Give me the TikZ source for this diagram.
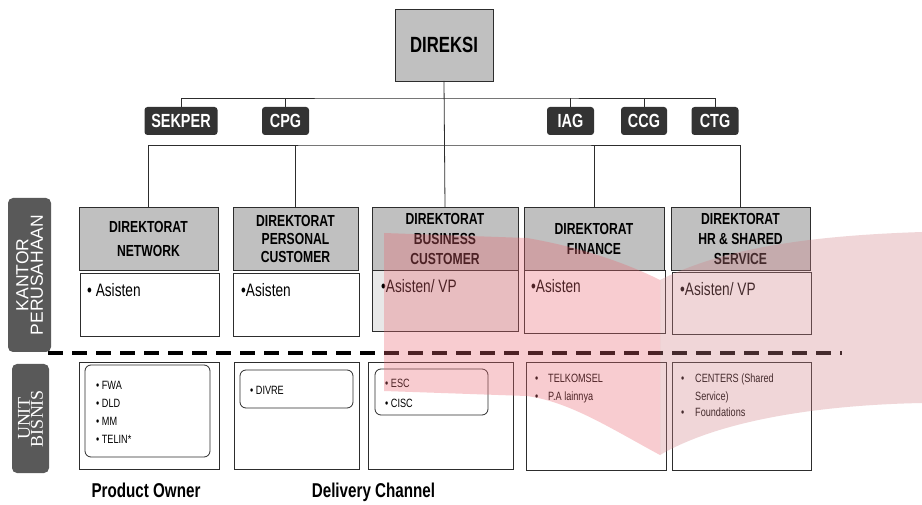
\documentclass[tikz,border=0pt]{standalone}
\usepackage{fontspec}
\setmainfont{Liberation Sans}
\newfontfamily\nfont[FakeStretch=0.76]{Liberation Sans}
\newfontfamily\rfont{Liberation Sans}
\newfontfamily\sfont{Liberation Serif}
\definecolor{hdrgray}{RGB}{192,192,192}
\definecolor{tagc}{RGB}{51,51,51}
\definecolor{sidec}{RGB}{89,89,89}
\definecolor{linec}{RGB}{45,45,45}
\definecolor{lightbox}{RGB}{232,232,232}
\definecolor{wmleft}{RGB}{234,103,113}
\definecolor{wmright}{RGB}{210,131,137}
\begin{document}
\begin{tikzpicture}[x=1pt,y=-1pt,
  box/.style={draw=linec, line width=0.8pt, inner sep=0pt, outer sep=0pt},
  hdr/.style={box, fill=hdrgray, align=center, font=\nfont\bfseries\fontsize{16}{19}\selectfont, minimum height=63pt},
  lowbox/.style={box, fill=white},
  inbox/.style={box, rounded corners=6pt},
  tagbox/.style={fill=tagc, rounded corners=3pt, text=white, inner sep=0pt, outer sep=0pt, minimum height=28pt, font=\nfont\bfseries\fontsize{19}{20}\selectfont},
  sidebox/.style={fill=sidec, rounded corners=5pt, inner sep=0pt, text=white},
  conn/.style={draw=linec, line width=0.8pt},
  item/.style={anchor=base west, inner sep=0pt, font=\nfont\fontsize{12}{14}\selectfont},
  asis/.style={anchor=base west, inner sep=0pt, font=\nfont\fontsize{18}{20}\selectfont},
  lbl/.style={anchor=base, inner sep=0pt, font=\nfont\bfseries\fontsize{20}{22}\selectfont},
  sep/.style={line width=3.6pt, dash pattern=on 15pt off 9pt, draw=black}
]
\useasboundingbox (0,0) rectangle (922,505);
\fill[white] (0,0) rectangle (922,505);

% top
\node[box, fill=hdrgray, minimum width=98pt, minimum height=72pt,
      font=\nfont\bfseries\fontsize{22}{24}\selectfont] (direksi) at (444,45) {DIREKSI};

\node[tagbox, minimum width=73pt] (sekper) at (181,121) {SEKPER};
\node[tagbox, minimum width=47pt] (cpg) at (285.5,121) {CPG};
\node[tagbox, minimum width=47pt] (iag) at (570.5,121) {IAG};
\node[tagbox, minimum width=46pt] (ccg) at (644,121) {CCG};
\node[tagbox, minimum width=47pt] (ctg) at (715,121) {CTG};

% direktorat headers
\node[hdr, minimum width=139pt, font=\nfont\bfseries\fontsize{16}{24}\selectfont] (hnet) at (148.5,238.5) {DIREKTORAT\\NETWORK};
\node[hdr, minimum width=125pt, font=\nfont\bfseries\fontsize{16}{18}\selectfont] (hper) at (295.5,238.5) {DIREKTORAT\\PERSONAL\\CUSTOMER};
\node[hdr, minimum width=146pt, font=\nfont\bfseries\fontsize{16}{20}\selectfont] (hbus) at (445,238.5) {DIREKTORAT\\BUSINESS\\CUSTOMER};
\node[hdr, minimum width=140pt, font=\nfont\bfseries\fontsize{16}{20}\selectfont] (hfin) at (594,238.5) {DIREKTORAT\\FINANCE};
\node[hdr, minimum width=139pt, font=\nfont\bfseries\fontsize{16}{20}\selectfont] (hhr) at (740.5,239) {DIREKTORAT\\HR \& SHARED\\SERVICE};

% connectors
\coordinate (bar1) at (445,98);
\coordinate (bar2) at (445,145);
\draw[conn] (sekper.north) |- (bar1) -| (ctg.north);
\draw[conn] (cpg.north) -- (cpg.north |- bar1);
\draw[conn] (iag.north) -- (iag.north |- bar1);
\draw[conn] (ccg.north) -- (ccg.north |- bar1);
\draw[conn] (direksi.south) -- (hbus.north);
\draw[conn] (hnet.north) |- (bar2) -| (hhr.north);
\draw[conn] (hper.north) -- (hper.north |- bar2);
\draw[conn] (hfin.north) -- (hfin.north |- bar2);

% asisten boxes
\node[lowbox, minimum width=139pt, minimum height=63pt] (anet) at (149.5,304.5) {};
\node[lowbox, minimum width=126pt, minimum height=63pt] (aper) at (296,304.5) {};
\node[lowbox, fill=lightbox, minimum width=146pt, minimum height=61pt] (abus) at (445,300.5) {};
\node[lowbox, minimum width=141pt, minimum height=63pt] (afin) at (594.5,301.5) {};
\node[lowbox, minimum width=139pt, minimum height=62pt] (ahr) at (741.5,303) {};

\node[asis] (tnet) at (87,297) {• Asisten};
\node[asis] (tper) at (241,297) {•Asisten};
\node[asis] (tbus) at (381,293) {•Asisten/ VP};
\node[asis] (tfin) at (531,293) {•Asisten};
\node[asis] (thr) at (680,296) {•Asisten/ VP};

% side labels
\node[sidebox, minimum width=43pt, minimum height=154pt] (kantor) at (29.5,275) {};
\node[rotate=90, align=center, text=white, inner sep=0pt,
      font=\rfont\fontsize{17.5}{14.5}\selectfont] (kantortxt) at (kantor.center) {KANTOR\\PERUSAHAAN};
\node[sidebox, minimum width=37pt, minimum height=109pt] (unit) at (30.5,418.5) {};
\node[rotate=90, align=center, text=white, inner sep=0pt,
      font=\sfont\fontsize{18}{13}\selectfont] (unittxt) at (unit.center) {UNIT\\BISNIS};

% separator
\coordinate (dl) at (48,353);
\coordinate (dr) at (842,353);
\draw[sep] (dl) -- (dr);

% unit bisnis boxes
\node[lowbox, minimum width=140pt, minimum height=107pt] (unet) at (149,415.5) {};
\node[inbox, minimum width=125pt, minimum height=92pt] (inet) at (147.5,411) {};
\node[lowbox, minimum width=125pt, minimum height=107pt] (uper) at (296.5,415.5) {};
\node[inbox, minimum width=113pt, minimum height=38pt] (iper) at (296.5,389) {};
\node[lowbox, minimum width=145pt, minimum height=107pt] (ubus) at (440.5,415.5) {};
\node[inbox, minimum width=113pt, minimum height=46pt] (ibus) at (431.5,392) {};
\node[lowbox, minimum width=140pt, minimum height=108pt] (ufin) at (596,416) {};
\node[lowbox, minimum width=139pt, minimum height=108pt] (uhr) at (741.5,416) {};

\node[item] (n1) at (96,389) {• FWA};
\node[item] (n2) at (96,407) {• DLD};
\node[item] (n3) at (96,425) {• MM};
\node[item] (n4) at (96,443) {• TELIN*};
\node[item] (p1) at (250,395) {• DIVRE};
\node[item] (b1) at (385,388) {• ESC};
\node[item] (b2) at (385,407) {• CISC};
\node[item] (f1) at (535,383) {\makebox[13pt][l]{•}TELKOMSEL};
\node[item] (f2) at (535,400) {\makebox[13pt][l]{•}P.A lainnya};
\node[item] (h1) at (681,383) {\makebox[14pt][l]{•}CENTERS (Shared};
\node[item] (h2) at (681,400) {\makebox[14pt][l]{}Service)};
\node[item] (h3) at (681,417) {\makebox[14pt][l]{•}Foundations};

% bottom labels
\node[lbl] (po) at (146,497) {Product Owner};
\node[lbl] (dc) at (373.5,497) {Delivery Channel};

% watermark
\fill[wmleft, fill opacity=0.33] (384,233) -- (527,238)
  .. controls (585,248) and (630,265) .. (660,280) -- (660,455)
  .. controls (610,428) and (570,402) .. (527,396) -- (384,391) -- cycle;
\fill[wmright, fill opacity=0.33] (660,280)
  .. controls (720,250) and (800,236) .. (922,232) -- (922,403)
  .. controls (820,405) and (720,420) .. (660,455) -- cycle;
\end{tikzpicture}
\end{document}
